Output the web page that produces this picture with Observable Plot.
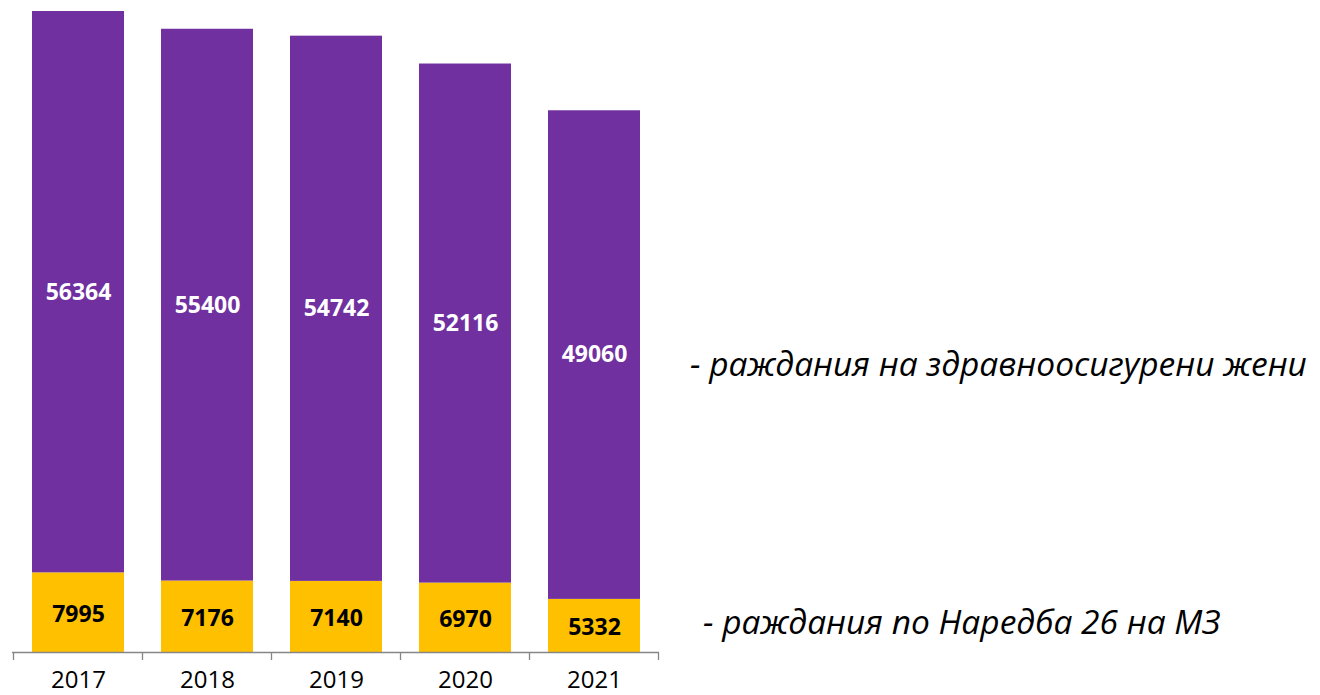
<!DOCTYPE html>
<html>
<head>
<meta charset="utf-8">
<script src="https://cdn.jsdelivr.net/npm/d3@7"></script>
<script src="https://cdn.jsdelivr.net/npm/@observablehq/plot@0.6"></script>
<style>
  html, body { margin: 0; padding: 0; background: #fff; }
  #wrap { position: relative; width: 1320px; height: 695px; overflow: hidden; }
  .leg { position: absolute; font-family: "Open Sans", "Noto Sans", sans-serif; font-style: italic; color: #000; white-space: nowrap; line-height: 1; transform: translateY(-50%); }
</style>
</head>
<body>
<div id="wrap"></div>
<script>
const years = ["2017", "2018", "2019", "2020", "2021"];
const naredba = [7995, 7176, 7140, 6970, 5332];
const osigureni = [56364, 55400, 54742, 52116, 49060];
const seriesNames = ["- раждания по Наредба 26 на МЗ", "- раждания на здравноосигурени жени"];
const seriesColors = ["#FFC000", "#7030A0"];

const data = [];
years.forEach((y, i) => {
  data.push({year: y, series: seriesNames[0], value: naredba[i]});
  data.push({year: y, series: seriesNames[1], value: osigureni[i]});
});
const yMax = d3.max(years.map((y, i) => naredba[i] + osigureni[i]));

const plot = Plot.plot({
  width: 660,
  height: 695,
  marginLeft: 12,
  marginRight: 1,
  marginTop: 11,
  marginBottom: 43,
  style: {fontFamily: "'Open Sans', sans-serif", background: "transparent"},
  x: {domain: years, paddingInner: 0.29, paddingOuter: 0.145, label: null},
  y: {domain: [0, yMax], axis: null},
  color: {domain: seriesNames, range: seriesColors},
  marks: [
    Plot.barY(data, Plot.stackY({x: "year", y: "value", fill: "series", z: "series", order: seriesNames})),
    Plot.text(data, Plot.stackY({x: "year", y: "value", z: "series", order: seriesNames, text: d => d.series === seriesNames[0] ? String(d.value) : "", fill: "#000", fontSize: 23, fontWeight: "bold", dy: 2})),
    Plot.text(data, Plot.stackY({x: "year", y: "value", z: "series", order: seriesNames, text: d => d.series === seriesNames[1] ? String(d.value) : "", fill: "#fff", fontSize: 23, fontWeight: "bold"})),
    Plot.ruleY([0], {stroke: "#868686", strokeWidth: 1.3}),
    Plot.axisX({tickSize: 0, tickPadding: 18, fontSize: 24, fill: "#000"})
  ]
});

// tick marks at category boundaries, from the band scale
const xs = plot.scale("x");
const ys = plot.scale("y");
const step = xs.step;
const bounds = [];
years.forEach((y, i) => bounds.push(xs.apply(y) - (step - xs.bandwidth) / 2));
bounds.push(xs.apply(years[years.length - 1]) + xs.bandwidth + (step - xs.bandwidth) / 2);
const y0 = ys.apply(0);
const svg = d3.select(plot);
svg.append("g").selectAll("line").data(bounds).join("line")
  .attr("x1", d => d).attr("x2", d => d)
  .attr("y1", y0).attr("y2", y0 + 8)
  .attr("stroke", "#868686").attr("stroke-width", 1.3);

const wrap = document.getElementById("wrap");
wrap.appendChild(plot);
plot.style.position = "absolute";
plot.style.left = "0px";
plot.style.top = "0px";

const legPos = [
  {name: seriesNames[1], left: 690, top: 364},
  {name: seriesNames[0], left: 703, top: 622}
];
legPos.forEach(p => {
  const div = document.createElement("div");
  div.className = "leg";
  div.textContent = p.name;
  div.style.left = p.left + "px";
  div.style.top = p.top + "px";
  div.style.fontSize = "33.5px";
  wrap.appendChild(div);
});
</script>
</body>
</html>
